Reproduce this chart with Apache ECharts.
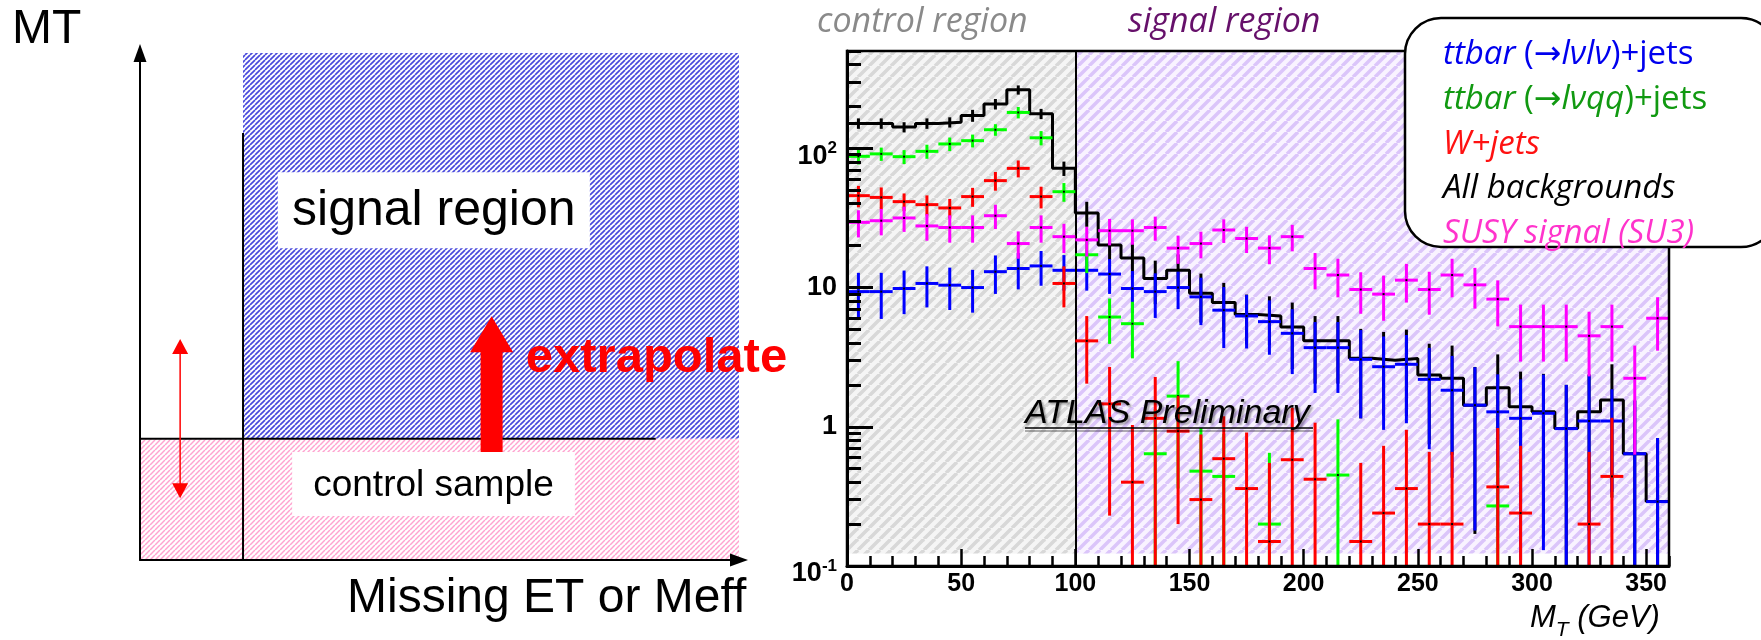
<!DOCTYPE html>
<html><head><meta charset="utf-8">
<script src="https://cdn.jsdelivr.net/npm/echarts@6/dist/echarts.min.js"></script>
<style>html,body{margin:0;padding:0;background:#fff}#c{width:1761px;height:640px}</style>
</head><body><div id="c"></div>
<script>
// ---------------- data (MT distribution, 10 GeV bins) ----------------
const BIN_CENTERS = [5,15,25,35,45,55,65,75,85,95,105,115,125,135,145,155,165,175,185,195,205,215,225,235,245,255,265,275,285,295,305,315,325,335,345,355];
const BIN_WIDTH = 10;
const ALL_BKG     = [151,151,142,151,154,172,208,263,177,71.8,34.3,20.2,16.3,11.6,13.3,9.1,7.8,6.4,6.25,5.2,4.14,4.14,3.1,3.0,3.09,2.35,2.23,1.43,1.91,1.39,1.28,0.97,1.28,1.56,0.64,0.29];
const ALL_BKG_ERR = [13,13,12,13,13,17,18,20,15,8.5,7,4.5,4.5,4,4,3.5,3,2.5,2.4,2.6,2.1,2.1,1.95,1.8,1.9,1.6,1.6,1.26,1.4,1.1,1.12,1.03,1.1,1.25,0.9,0.54];
const TT_LVLV     = [9.35,9.35,9.84,10.7,10.4,10.0,13.0,13.7,14.3,13.3,13.3,12.5,9.84,9.35,10.0,8.57,6.88,6.25,5.69,4.69,3.70,3.70,3.05,2.70,2.81,2.19,1.83,1.43,1.28,1.15,1.25,0.97,1.10,1.10,0.64,0.29];
const TT_LVLV_ERR = [3.4,3.4,3.4,3.5,3.5,3.4,4,4,4,3.8,3.8,3.5,3.3,3.3,3,3.2,3.2,2.6,2.4,2.3,1.95,1.95,1.9,1.75,1.75,1.5,1.4,1.25,1.1,1.04,1.12,1.03,1.25,0.76,0.9,0.54];
const TT_LVQQ     = [87.6,91.2,87.1,95.1,107.5,113.5,136,181,119,48.8,17.2,6.14,5.5,0.64,1.66,0.48,0.44,null,0.20,null,null,0.45,null,null,null,null,null,null,0.27,null,null,null,null,null,null,null];
const TT_LVQQ_ERR = [11,10,10,11,12,12,13,17,14,7.5,4.5,2.2,2.4,0.7,1.3,0.5,0.45,null,0.45,null,null,0.68,null,null,null,null,null,null,0.3,null,null,null,null,null,null,null];
const W_JETS      = [45.7,44.4,41.4,39.4,37.3,45.0,58.6,71.8,45.0,10.7,4.14,1.46,0.40,1.15,0.93,0.30,0.59,0.36,0.15,0.58,0.42,null,0.15,0.24,0.36,0.20,0.20,null,0.37,0.24,null,null,0.20,0.44,null,null];
const W_JETS_ERR  = [8,8,6,6.5,6,7,9,10,8,3.5,2.1,1.23,0.63,1.13,0.73,0.58,0.6,0.55,0.4,0.79,0.65,null,0.4,0.49,0.59,0.46,0.46,null,0.61,0.49,null,null,0.46,0.72,null,null];
const SUSY_SU3    = [29.4,30.2,31.6,27.7,27.0,27.0,32.8,20.7,27.0,23.2,22.0,25.6,25.6,27.0,19.2,20.7,25.9,22.5,19.2,23.2,13.7,12.3,9.68,8.97,11.3,9.68,12.3,10.45,8.26,5.24,5.24,5.24,4.50,5.24,2.23,6.02];
const SUSY_SU3_ERR= [6.5,6.5,6.5,6,6,6,6.5,4.6,6,5.5,5.3,5.5,5.3,5.3,4.4,4.5,5,4.8,4.5,5,4,3.8,3.2,3.2,3.5,3.3,3.8,3.4,3,2.3,2.3,2.3,2.2,2.3,1.6,2.5];

const X_MIN = 0, X_MAX = 360, Y_MIN = 0.1, Y_MAX = 500;
const X_TICKS = [0,50,100,150,200,250,300,350];
const X_MINOR_TICKS = [10,20,30,40,60,70,80,90,110,120,130,140,160,170,180,190,210,220,230,240,260,270,280,290,310,320,330,340,360];
const Y_TICKS = [0.1,1,10,100];
const Y_MINOR_TICKS = [0.2,0.3,0.4,0.5,0.6,0.7,0.8,0.9,2,3,4,5,6,7,8,9,20,30,40,50,60,70,80,90,200,300,400,500];
const REGION_SPLIT = 100;      // MT cut (GeV) between control and signal region
const HATCH_Y_MIN = 0.123;

// ---------------- schematic (left panel, axis units 0..100) ----------------
const SCH_MET_CUT = 17.2;
const SCH_MT_CUT = 23.9;
const SCH_MET_LINE_TOP = 84.2;
const SCH_MT_LINE_END = 86.1;
const SCH_SIGNAL_BOX = [[23.0, 61.5], [75.1, 76.5]];
const SCH_CONTROL_BOX = [[25.4, 8.7], [72.6, 21.3]];
const SCH_DOUBLE_ARROW = [[6.7, 12.2], [6.7, 43.6]];
const SCH_BIG_ARROW = [[58.7, 21.3], [58.7, 48.1]];
const SCH_EXTRAP_LABEL = [64.4, 39.7];

// ---------------- helpers ----------------
function hatch(bg, fg, size, lw) {
  const c = document.createElement('canvas'); c.width = size; c.height = size;
  const g = c.getContext('2d');
  g.fillStyle = bg; g.fillRect(0, 0, size, size);
  g.strokeStyle = fg; g.lineWidth = lw;
  for (const k of [-1, 0, 1]) { g.beginPath(); g.moveTo(k * size, size); g.lineTo(k * size + size, 0); g.stroke(); }
  return c;
}
const grayHatch = hatch('#f5f5f5', '#d8d8d8', 11, 3.5);
const lavHatch  = hatch('#f9f3ff', '#dbc5fa', 11, 3.5);
const blueHatch = hatch('#ffffff', '#4848dc', 5, 1.7);
const pinkHatch = hatch('#ffffff', '#ffa3d0', 5, 1.5);

function toItems(vals, errs) {
  const out = [];
  BIN_CENTERS.forEach((c, i) => { if (vals[i] != null) out.push([c, vals[i], errs[i]]); });
  return out;
}
function crossRender(color, drawH) {
  return function (params, api) {
    const x = api.value(0), v = api.value(1), e = api.value(2);
    const lo = Math.max(v - e, Y_MIN), hi = Math.min(v + e, Y_MAX);
    const pc = api.coord([x, v]);
    const pt = api.coord([x, hi]), pb = api.coord([x, lo]);
    const ch = [{ type: 'line', shape: { x1: pt[0], y1: pt[1], x2: pb[0], y2: pb[1] }, style: { stroke: color, lineWidth: 3 } }];
    if (drawH) {
      const pl = api.coord([x - BIN_WIDTH / 2, v]), pr = api.coord([x + BIN_WIDTH / 2, v]);
      ch.push({ type: 'line', shape: { x1: pl[0], y1: pl[1], x2: pr[0], y2: pr[1] }, style: { stroke: color, lineWidth: 3 } });
    }
    ch.push({ type: 'rect', shape: { x: pc[0] - 1, y: pc[1] - 1, width: 2, height: 2 }, style: { fill: '#000' } });
    return { type: 'group', children: ch };
  };
}
// histogram outline built from bin edges
const histLine = BIN_CENTERS.map((c, i) => [c - BIN_WIDTH / 2, ALL_BKG[i]]);
histLine.push([BIN_CENTERS[BIN_CENTERS.length - 1] + BIN_WIDTH / 2, ALL_BKG[ALL_BKG.length - 1]]);

function renderSchematic(params, api) {
  const P = p => api.coord(p);
  const rect = (a, b, style) => {
    const p1 = P(a), p2 = P(b);
    return { type: 'rect', shape: { x: Math.min(p1[0], p2[0]), y: Math.min(p1[1], p2[1]), width: Math.abs(p2[0] - p1[0]), height: Math.abs(p2[1] - p1[1]) }, style };
  };
  const line = (a, b, style) => { const p1 = P(a), p2 = P(b); return { type: 'line', shape: { x1: p1[0], y1: p1[1], x2: p2[0], y2: p2[1] }, style }; };
  const ch = [];
  ch.push(rect([SCH_MET_CUT, SCH_MT_CUT], [100, 100], { fill: { image: blueHatch, repeat: 'repeat' } }));
  ch.push(rect([0, 0], [100, SCH_MT_CUT], { fill: { image: pinkHatch, repeat: 'repeat' } }));
  ch.push(line([SCH_MET_CUT, 0], [SCH_MET_CUT, SCH_MET_LINE_TOP], { stroke: '#000', lineWidth: 2 }));
  ch.push(line([0, SCH_MT_CUT], [SCH_MT_LINE_END, SCH_MT_CUT], { stroke: '#000', lineWidth: 2 }));
  ch.push(rect(SCH_SIGNAL_BOX[0], SCH_SIGNAL_BOX[1], { fill: '#fff' }));
  ch.push(rect(SCH_CONTROL_BOX[0], SCH_CONTROL_BOX[1], { fill: '#fff' }));
  const sc = P([(SCH_SIGNAL_BOX[0][0] + SCH_SIGNAL_BOX[1][0]) / 2, (SCH_SIGNAL_BOX[0][1] + SCH_SIGNAL_BOX[1][1]) / 2]);
  ch.push({ type: 'text', x: sc[0], y: sc[1] + 1, style: { text: 'signal region', font: '50px "Liberation Sans"', fill: '#000', align: 'center', verticalAlign: 'middle' } });
  const cc = P([(SCH_CONTROL_BOX[0][0] + SCH_CONTROL_BOX[1][0]) / 2, (SCH_CONTROL_BOX[0][1] + SCH_CONTROL_BOX[1][1]) / 2]);
  ch.push({ type: 'text', x: cc[0], y: cc[1] + 2, style: { text: 'control sample', font: '37px "Liberation Sans"', fill: '#000', align: 'center', verticalAlign: 'middle' } });
  // double arrow
  const da = P(SCH_DOUBLE_ARROW[0]), db = P(SCH_DOUBLE_ARROW[1]);
  ch.push({ type: 'line', shape: { x1: da[0], y1: da[1] - 14, x2: db[0], y2: db[1] + 14 }, style: { stroke: '#ff0000', lineWidth: 1.5 } });
  ch.push({ type: 'polygon', shape: { points: [[da[0], da[1]], [da[0] - 8, da[1] - 15], [da[0] + 8, da[1] - 15]] }, style: { fill: '#ff0000' } });
  ch.push({ type: 'polygon', shape: { points: [[db[0], db[1]], [db[0] - 8, db[1] + 15], [db[0] + 8, db[1] + 15]] }, style: { fill: '#ff0000' } });
  // big arrow
  const b = P(SCH_BIG_ARROW[0]), t = P(SCH_BIG_ARROW[1]);
  const hl = 36, sw = 11, hw = 21.5;
  ch.push({ type: 'polygon', shape: { points: [[b[0] - sw, b[1]], [b[0] - sw, t[1] + hl], [b[0] - hw, t[1] + hl], [t[0], t[1]], [b[0] + hw, t[1] + hl], [b[0] + sw, t[1] + hl], [b[0] + sw, b[1]]] }, style: { fill: '#ff0000' } });
  const el = P(SCH_EXTRAP_LABEL);
  ch.push({ type: 'text', x: el[0], y: el[1], style: { text: 'extrapolate', font: 'bold 49px "Liberation Sans"', fill: '#ff0000', align: 'left', verticalAlign: 'middle' } });
  return { type: 'group', children: ch };
}

// ---------------- chart ----------------
const chart = echarts.init(document.getElementById('c'), null, { renderer: 'canvas', width: 1761, height: 640 });
const tickFont = '"Liberation Sans", Arial, sans-serif';
const legendRich = {
  i: { fontStyle: 'italic', fontFamily: '"Open Sans"', fontSize: 33 },
  n: { fontStyle: 'normal', fontFamily: '"Open Sans"', fontSize: 33 },
  r: { fontStyle: 'normal', fontFamily: '"DejaVu Sans"', fontSize: 33 }
};
function legendText(y, text, color) {
  return { type: 'text', x: 1443, y: y, z: 101, style: { text: text, fill: color, font: 'italic 33px "Open Sans"', rich: legendRich, align: 'left', verticalAlign: 'middle' } };
}

const option = {
  animation: false,
  backgroundColor: '#fff',
  grid: [
    { left: 140, top: 53, width: 599, height: 507, show: false },
    { left: 847, top: 51, width: 822, height: 515, show: true, z: 10, borderColor: '#000', borderWidth: 2.5, backgroundColor: 'transparent' }
  ],
  xAxis: [
    { gridIndex: 0, type: 'value', min: 0, max: 100, z: 10,
      axisLine: { show: true, onZero: false, symbol: ['none', 'triangle'], symbolSize: [13, 18], lineStyle: { color: '#000', width: 2 } },
      axisTick: { show: false }, axisLabel: { show: false }, splitLine: { show: false } },
    { gridIndex: 1, type: 'value', min: X_MIN, max: X_MAX, interval: 50, z: 10,
      axisLine: { show: true, onZero: false, lineStyle: { color: '#000', width: 3 } },
      axisTick: { show: true, inside: true, length: 17, customValues: X_TICKS, lineStyle: { color: '#000', width: 2.5 } },
      axisLabel: { customValues: X_TICKS, margin: 6, fontSize: 25, fontWeight: 'bold', fontFamily: tickFont, color: '#000' },
      splitLine: { show: false } },
    { gridIndex: 1, type: 'value', min: X_MIN, max: X_MAX, position: 'bottom', z: 10,
      axisLine: { show: false },
      axisTick: { show: true, inside: true, length: 10, customValues: X_MINOR_TICKS, lineStyle: { color: '#000', width: 2.5 } },
      axisLabel: { show: false }, splitLine: { show: false } }
  ],
  yAxis: [
    { gridIndex: 0, type: 'value', min: 0, max: 100, z: 10,
      axisLine: { show: true, onZero: false, symbol: ['none', 'triangle'], symbolSize: [13, 18], lineStyle: { color: '#000', width: 2 } },
      axisTick: { show: false }, axisLabel: { show: false }, splitLine: { show: false } },
    { gridIndex: 1, type: 'log', logBase: 10, min: Y_MIN, max: Y_MAX, z: 10,
      axisLine: { show: true, onZero: false, lineStyle: { color: '#000', width: 3 } },
      axisTick: { show: true, inside: true, length: 26, customValues: Y_TICKS, lineStyle: { color: '#000', width: 3 } },
      axisLabel: {
        customValues: Y_TICKS, margin: 10,
        formatter: function (v) {
          const e = Math.round(Math.log10(v));
          if (e === 0) return '{p|1}';
          if (e === 1) return '{p|10}';
          return '{b|10}{s|' + e + '}';
        },
        rich: {
          p: { fontSize: 27, fontWeight: 'bold', fontFamily: tickFont, color: '#000' },
          b: { fontSize: 27, fontWeight: 'bold', fontFamily: tickFont, color: '#000', lineHeight: 27, padding: [8, 0, 0, 0], verticalAlign: 'top' },
          s: { fontSize: 17, fontWeight: 'bold', fontFamily: tickFont, color: '#000', lineHeight: 17, padding: [5, 0, 0, 0], verticalAlign: 'top' }
        }
      },
      splitLine: { show: false } },
    { gridIndex: 1, type: 'log', logBase: 10, min: Y_MIN, max: Y_MAX, position: 'left', z: 10,
      axisLine: { show: false },
      axisTick: { show: true, inside: true, length: 14, customValues: Y_MINOR_TICKS, lineStyle: { color: '#000', width: 3 } },
      axisLabel: { show: false }, splitLine: { show: false } }
  ],
  series: [
    { type: 'custom', name: 'schematic', xAxisIndex: 0, yAxisIndex: 0, data: [0], renderItem: renderSchematic, silent: true, z: 2 },
    { type: 'line', name: 'regions', xAxisIndex: 1, yAxisIndex: 1, data: [], z: 1, silent: true,
      markArea: { silent: true, data: [
        [{ xAxis: X_MIN, yAxis: HATCH_Y_MIN, itemStyle: { color: { image: grayHatch, repeat: 'repeat' } } }, { xAxis: REGION_SPLIT, yAxis: Y_MAX }],
        [{ xAxis: REGION_SPLIT, yAxis: HATCH_Y_MIN, itemStyle: { color: { image: lavHatch, repeat: 'repeat' } } }, { xAxis: X_MAX, yAxis: Y_MAX }]
      ] },
      markLine: { silent: true, symbol: ['none', 'none'], label: { show: false }, lineStyle: { color: '#000', width: 2, type: 'solid' }, data: [{ xAxis: REGION_SPLIT }] }
    },
    { type: 'line', name: 'All backgrounds', xAxisIndex: 1, yAxisIndex: 1, data: histLine, step: 'end', showSymbol: false, lineStyle: { color: '#000', width: 3 }, z: 3 },
    { type: 'custom', name: 'All backgrounds err', xAxisIndex: 1, yAxisIndex: 1, data: toItems(ALL_BKG, ALL_BKG_ERR), encode: { x: 0, y: 1 }, renderItem: crossRender('#000', false), clip: true, z: 3 },
    { type: 'custom', name: 'ttbar lvlv', xAxisIndex: 1, yAxisIndex: 1, data: toItems(TT_LVLV, TT_LVLV_ERR), encode: { x: 0, y: 1 }, renderItem: crossRender('#0000ff', true), clip: true, z: 4 },
    { type: 'custom', name: 'ttbar lvqq', xAxisIndex: 1, yAxisIndex: 1, data: toItems(TT_LVQQ, TT_LVQQ_ERR), encode: { x: 0, y: 1 }, renderItem: crossRender('#00ff00', true), clip: true, z: 5 },
    { type: 'custom', name: 'W+jets', xAxisIndex: 1, yAxisIndex: 1, data: toItems(W_JETS, W_JETS_ERR), encode: { x: 0, y: 1 }, renderItem: crossRender('#ff0000', true), clip: true, z: 6 },
    { type: 'custom', name: 'SUSY SU3', xAxisIndex: 1, yAxisIndex: 1, data: toItems(SUSY_SU3, SUSY_SU3_ERR), encode: { x: 0, y: 1 }, renderItem: crossRender('#ff00ff', true), clip: true, z: 7 }
  ],
  graphic: [
    { type: 'text', x: 12, y: 30, style: { text: 'MT', font: '48px "Liberation Sans"', fill: '#000', align: 'left', verticalAlign: 'middle' } },
    { type: 'text', x: 347, y: 599, style: { text: 'Missing ET or Meff', font: '48px "Liberation Sans"', fill: '#000', align: 'left', verticalAlign: 'middle' } },
    { type: 'text', x: 817, y: 22, style: { text: 'control region', font: 'italic 34px "Open Sans"', fill: '#8a8a8a', align: 'left', verticalAlign: 'middle' } },
    { type: 'text', x: 1128, y: 22, style: { text: 'signal region', font: 'italic 34px "Open Sans"', fill: '#66106a', align: 'left', verticalAlign: 'middle' } },
    { type: 'text', x: 1025, y: 414, z: 50, style: { text: 'ATLAS Preliminary', font: 'italic 34px "Liberation Sans"', fill: '#000', align: 'left', verticalAlign: 'middle', textShadowColor: 'rgba(0,0,0,0.35)', textShadowBlur: 2, textShadowOffsetX: 2, textShadowOffsetY: 2 } },
    { type: 'line', z: 50, shape: { x1: 1025, y1: 431, x2: 1313, y2: 431 }, style: { stroke: 'rgba(0,0,0,0.3)', lineWidth: 2 } },
    { type: 'line', z: 50, shape: { x1: 1025, y1: 428, x2: 1313, y2: 428 }, style: { stroke: '#000', lineWidth: 1.5 } },
    { type: 'text', x: 1530, y: 603, z: 50, style: { text: '{a|M}{b|T}{a| (GeV)}', fill: '#000', align: 'left', verticalAlign: 'top',
      rich: { a: { fontSize: 31, fontStyle: 'italic', fontFamily: '"Liberation Sans"', lineHeight: 31, verticalAlign: 'top' },
              b: { fontSize: 21, fontStyle: 'italic', fontFamily: '"Liberation Sans"', lineHeight: 21, padding: [17, 0, 0, 0], verticalAlign: 'top' } } } },
    { type: 'rect', z: 100, shape: { x: 1405, y: 18, width: 372, height: 229, r: 36 }, style: { fill: '#fff', stroke: '#000', lineWidth: 2.5 } },
    legendText(55, '{i|ttbar} {n|(}{r|→}{i|lνlν}{n|)+jets}', '#0000ee'),
    legendText(100, '{i|ttbar} {n|(}{r|→}{i|lνqq}{n|)+jets}', '#119911'),
    legendText(145, 'W+jets', '#ff1111'),
    legendText(189, 'All backgrounds', '#000000'),
    legendText(234, 'SUSY signal (SU3)', '#ff33cc')
  ]
};
chart.setOption(option);
</script>
</body></html>
